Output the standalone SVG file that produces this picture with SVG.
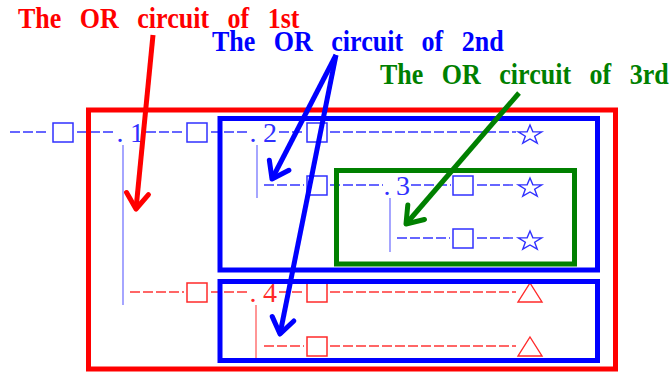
<svg xmlns="http://www.w3.org/2000/svg" width="670" height="373" viewBox="0 0 670 373">
<style>
.title{font-family:"Liberation Serif","Times New Roman",serif;font-weight:bold;font-size:26px;word-spacing:12px}
.num{font-family:"Liberation Serif","Times New Roman",serif;font-size:28px;text-anchor:middle}
.db{stroke:#3535ff;stroke-width:1.4;stroke-dasharray:10 3;fill:none}
.dr{stroke:#ff3535;stroke-width:1.4;stroke-dasharray:10 3;fill:none}
.vb{stroke:#6a6aff;stroke-width:1.2}
.vr{stroke:#ff5050;stroke-width:1.2}
.sqb{fill:none;stroke:#3030ff;stroke-width:1.5}
.sqr{fill:none;stroke:#ff2a2a;stroke-width:1.5}
.frame{fill:none;stroke-width:5}
.arrow{fill:none;stroke-width:5}
</style>
<defs>
<polygon id="star" points="0,-10 2.88,-3.24 11.7,-3.09 4.66,1.24 7.23,8.09 0,4 -7.23,8.09 -4.66,1.24 -11.7,-3.09 -2.88,-3.24" fill="none" stroke="#3030ff" stroke-width="1.4" stroke-linejoin="miter"/>
<polygon id="tri" points="0,-9 12,10 -12,10" fill="none" stroke="#ff2a2a" stroke-width="1.4"/>
<marker id="mr" markerUnits="userSpaceOnUse" orient="auto" overflow="visible" markerWidth="1" markerHeight="1" refX="0" refY="0">
<path d="M-15.5,-11 L0,0 L-15.5,11" fill="none" stroke="#ff0000" stroke-width="5" stroke-linecap="round" stroke-linejoin="round"/>
</marker>
<marker id="mb" markerUnits="userSpaceOnUse" orient="auto" overflow="visible" markerWidth="1" markerHeight="1" refX="0" refY="0">
<path d="M-15.5,-11 L0,0 L-15.5,11" fill="none" stroke="#0000ff" stroke-width="5" stroke-linecap="round" stroke-linejoin="round"/>
</marker>
<marker id="mg" markerUnits="userSpaceOnUse" orient="auto" overflow="visible" markerWidth="1" markerHeight="1" refX="0" refY="0">
<path d="M-15.5,-11 L0,0 L-15.5,11" fill="none" stroke="#008000" stroke-width="5" stroke-linecap="round" stroke-linejoin="round"/>
</marker>
</defs>
<rect width="670" height="373" fill="#ffffff"/>

<g id="tree">
<g id="row1">
<line class="db" x1="10" y1="132" x2="48" y2="132"/>
<rect class="sqb" x="53" y="123" width="20" height="19"/>
<line class="db" x1="77" y1="132" x2="115" y2="132"/>
<text class="num" fill="#3030ff"><tspan x="120" y="142">.</tspan><tspan x="137" y="142">1</tspan></text>
<line class="db" x1="146" y1="132" x2="184" y2="132"/>
<rect class="sqb" x="187" y="123" width="20" height="19"/>
<line class="db" x1="211" y1="132" x2="249" y2="132"/>
<text class="num" fill="#3030ff"><tspan x="253" y="142">.</tspan><tspan x="270" y="142">2</tspan></text>
<line class="db" x1="279" y1="132" x2="304" y2="132"/>
<rect class="sqb" x="307" y="123" width="20" height="19"/>
<line class="db" x1="330" y1="132" x2="516" y2="132"/>
<use href="#star" x="530" y="135"/>
</g>
<g id="row2">
<line class="vb" x1="257" y1="145" x2="257" y2="198"/>
<line class="db" x1="264" y1="185" x2="304" y2="185"/>
<rect class="sqb" x="307" y="176" width="20" height="19"/>
<line class="db" x1="330" y1="185" x2="383" y2="185"/>
<text class="num" fill="#3030ff"><tspan x="387" y="195">.</tspan><tspan x="403" y="195">3</tspan></text>
<line class="db" x1="411" y1="185" x2="451" y2="185"/>
<rect class="sqb" x="453" y="176" width="20" height="19"/>
<line class="db" x1="477" y1="185" x2="516" y2="185"/>
<use href="#star" x="530" y="188"/>
</g>
<g id="row3">
<line class="vb" x1="390" y1="198" x2="390" y2="252"/>
<line class="db" x1="397" y1="238" x2="450" y2="238"/>
<rect class="sqb" x="453" y="229" width="20" height="19"/>
<line class="db" x1="477" y1="238" x2="516" y2="238"/>
<use href="#star" x="530" y="241"/>
</g>
<g id="row4">
<line class="vb" x1="123" y1="145" x2="123" y2="305"/>
<line class="dr" x1="130" y1="292" x2="184" y2="292"/>
<rect class="sqr" x="187" y="283" width="20" height="19"/>
<line class="dr" x1="211" y1="292" x2="249" y2="292"/>
<text class="num" fill="#ff2a2a"><tspan x="253" y="302">.</tspan><tspan x="270" y="302">4</tspan></text>
<line class="dr" x1="279" y1="292" x2="304" y2="292"/>
<rect class="sqr" x="307" y="283" width="20" height="19"/>
<line class="dr" x1="330" y1="292" x2="516" y2="292"/>
<use href="#tri" x="530" y="292"/>
</g>
<g id="row5">
<line class="vr" x1="256" y1="305" x2="256" y2="358"/>
<line class="dr" x1="264" y1="346" x2="304" y2="346"/>
<rect class="sqr" x="307" y="337" width="20" height="19"/>
<line class="dr" x1="330" y1="346" x2="516" y2="346"/>
<use href="#tri" x="530" y="346"/>
</g>
</g>

<g id="or1">
<rect class="frame" x="88.5" y="110" width="527" height="259" stroke="#ff0000"/>
<text class="title" fill="#ff0000" transform="translate(18,28) scale(1,1.1)">The OR circuit of 1st</text>
</g>
<g id="or2">
<rect class="frame" x="220" y="118.5" width="377.5" height="151.5" stroke="#0000ff"/>
<rect class="frame" x="220" y="281.5" width="377.5" height="79" stroke="#0000ff"/>
<text class="title" fill="#0000ff" transform="translate(212,51) scale(1,1.1)">The OR circuit of 2nd</text>
</g>
<g id="or3">
<rect class="frame" x="336.5" y="170.5" width="238" height="93.5" stroke="#008000"/>
<text class="title" fill="#008000" transform="translate(380,84) scale(1,1.1)">The OR circuit of 3rd</text>
</g>

<g id="connectors">
<path class="arrow" d="M153,35 L136,209" stroke="#ff0000" marker-end="url(#mr)"/>
<path class="arrow" d="M336,55 L272,179" stroke="#0000ff" marker-end="url(#mb)"/>
<path class="arrow" d="M336,55 L280,334" stroke="#0000ff" marker-end="url(#mb)"/>
<path class="arrow" d="M519,93 L406,224" stroke="#008000" marker-end="url(#mg)"/>
</g>
</svg>
